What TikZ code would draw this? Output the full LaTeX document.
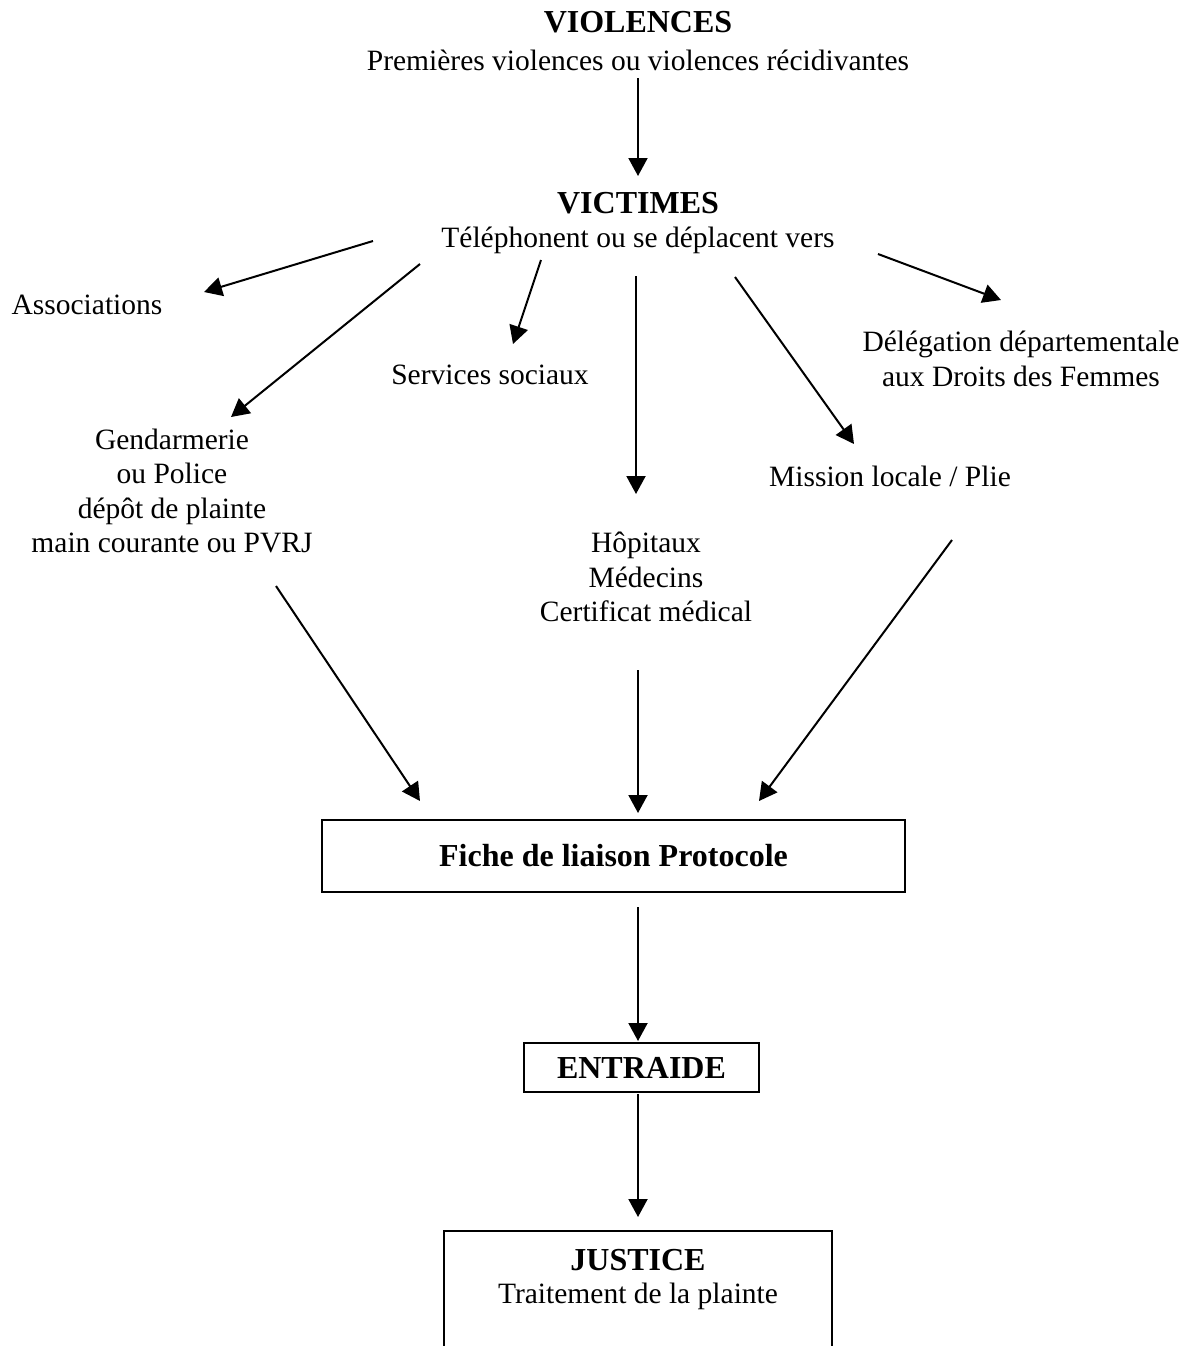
\documentclass[tikz,border=0pt]{standalone}
\usepackage{fontspec}
\setmainfont{Liberation Serif}
\usetikzlibrary{arrows.meta}
\tikzset{
  txt/.style={inner sep=0pt, align=center, font=\fontsize{14.75}{17.25}\selectfont},
  ttl/.style={inner sep=0pt, align=center, font=\fontsize{16}{18}\selectfont\bfseries},
  arr/.style={line width=1pt, -{Triangle[length=9pt,width=9.5pt]}},
  boxline/.style={line width=1pt},
  framebox/.style={draw, line width=1pt, inner sep=0pt, align=center, font=\fontsize{16}{18}\selectfont\bfseries}
}
\begin{document}
\begin{tikzpicture}[x=0.5pt,y=-0.5pt]
\useasboundingbox (0,0) rectangle (1188,1346);
% texts
\node[ttl] (violences) at (638,22) {VIOLENCES};
\node[txt] (prem) at (638,60) {Premières violences ou violences récidivantes};
\node[ttl] (victimes) at (638,203) {VICTIMES};
\node[txt] (tel) at (638,240) {Téléphonent ou se déplacent vers};
\node[txt] (assoc) at (87,305) {Associations};
\node[txt] (serv) at (490,375) {Services sociaux};
\node[txt] (deleg) at (1021,359) {Délégation départementale\\aux Droits des Femmes};
\node[txt] (mission) at (890,476) {Mission locale / Plie};
\node[txt] (gend) at (172,491) {Gendarmerie\\ou Police\\dépôt de plainte\\main courante ou PVRJ};
\node[txt] (hop) at (646,577) {Hôpitaux\\Médecins\\Certificat médical};
% boxes
\node[framebox, minimum width=291.5pt, minimum height=36pt] (fiche) at (613.5,856) {Fiche de liaison Protocole};
\node[framebox, minimum width=117.5pt, minimum height=24.5pt] (entraide) at (641.5,1067.5) {ENTRAIDE};
\coordinate (jbl) at (444,1346); \coordinate (jtl) at (444,1231);
\coordinate (jtr) at (832,1231); \coordinate (jbr) at (832,1346);
\draw[boxline] (jbl) -- (jtl) -- (jtr) -- (jbr);
\node[ttl] (justice) at (638,1260) {JUSTICE};
\node[txt] (trait) at (638,1296) {Traitement de la plainte};
% arrow endpoints
\coordinate (a1s) at (638,78);  \coordinate (a1e) at (638,176);
\coordinate (a2s) at (373,241); \coordinate (a2e) at (204,292);
\coordinate (a3s) at (420,264); \coordinate (a3e) at (231,417);
\coordinate (a4s) at (541,260); \coordinate (a4e) at (513,344);
\coordinate (a5s) at (636,276); \coordinate (a5e) at (636,494);
\coordinate (a6s) at (735,277); \coordinate (a6e) at (854,444);
\coordinate (a7s) at (878,254); \coordinate (a7e) at (1001,300);
\coordinate (a8s) at (276,586); \coordinate (a8e) at (420,801);
\coordinate (a9s) at (638,670); \coordinate (a9e) at (638,813);
\coordinate (a10s) at (952,540); \coordinate (a10e) at (759,801);
\coordinate (a11s) at (638,907); \coordinate (a11e) at (638,1041);
\coordinate (a12s) at (638,1094); \coordinate (a12e) at (638,1217);
\foreach \i in {1,...,12} { \draw[arr] (a\i s) -- (a\i e); }
\end{tikzpicture}
\end{document}
